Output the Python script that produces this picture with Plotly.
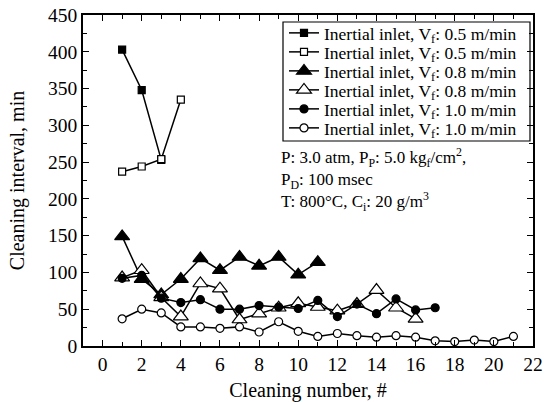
import plotly.graph_objects as go

# Data
x_sq_f = [1, 2, 3]
y_sq_f = [403, 348, 253]

x_sq_o = [1, 2, 3, 4]
y_sq_o = [237, 244, 254, 335]

x_tri_f = [1, 2, 3, 4, 5, 6, 7, 8, 9, 10, 11]
y_tri_f = [149, 91, 70, 91, 119, 103, 121, 109, 121, 97, 114]

x_tri_o = [1, 2, 3, 4, 5, 6, 7, 8, 9, 10, 11, 12, 13, 14, 15, 16]
y_tri_o = [93, 103, 66, 40, 85, 78, 36, 44, 52, 58, 53, 48, 57, 76, 52, 37]

x_cir_f = [1, 2, 3, 4, 5, 6, 7, 8, 9, 10, 11, 12, 13, 14, 15, 16, 17]
y_cir_f = [92, 96, 65, 59, 63, 50, 50, 55, 53, 51, 62, 40, 57, 44, 64, 49, 52]

x_cir_o = [1, 2, 3, 4, 5, 6, 7, 8, 9, 10, 11, 12, 13, 14, 15, 16, 17, 18, 19, 20, 21]
y_cir_o = [37, 50, 45, 26, 26, 24, 26, 19, 33, 20, 13, 17, 14, 12, 14, 12, 7, 6, 8, 6, 13]

names = [
    "Inertial inlet, V<sub>f</sub>: 0.5 m/min",
    "Inertial inlet, V<sub>f</sub>: 0.5 m/min",
    "Inertial inlet, V<sub>f</sub>: 0.8 m/min",
    "Inertial inlet, V<sub>f</sub>: 0.8 m/min",
    "Inertial inlet, V<sub>f</sub>: 1.0 m/min",
    "Inertial inlet, V<sub>f</sub>: 1.0 m/min",
]

FONT = "Liberation Serif"
W, H = 544, 402
ML, MR, MT, MB = 83, 11, 15, 56
PW, PH = W - ML - MR, H - MT - MB


def px_x(p):
    return (p - ML) / PW


def px_y(p):
    return (H - MB - p) / PH


series = [
    (x_sq_f, y_sq_f, "square", "black", 7),
    (x_sq_o, y_sq_o, "square", "white", 7),
    (x_tri_f, y_tri_f, "triangle-up", "black", 13),
    (x_tri_o, y_tri_o, "triangle-up", "white", 13),
    (x_cir_f, y_cir_f, "circle", "black", 8),
    (x_cir_o, y_cir_o, "circle", "white", 8),
]

legend_rows_px = [33, 52, 71, 90, 109, 128]
legend_left_px = 284

fig = go.Figure()
layout_legends = {}
for i, ((xs, ys, sym, fill, size), name) in enumerate(zip(series, names)):
    lg = "legend" if i == 0 else f"legend{i + 1}"
    fig.add_trace(go.Scatter(
        x=xs, y=ys, mode="lines+markers", name=name, legend=lg, showlegend=True,
        line=dict(color="black", width=1.5),
        marker=dict(symbol=sym, color=fill, size=size,
                    line=dict(color="black", width=1.2)),
    ))
    layout_legends[lg] = dict(
        x=px_x(legend_left_px), y=px_y(legend_rows_px[i]),
        xanchor="left", yanchor="middle",
        bgcolor="rgba(0,0,0,0)", borderwidth=0,
        font=dict(family=FONT, size=17.5, color="black"),
        itemwidth=30,
    )

axis_common = dict(
    showline=True, linecolor="black", linewidth=1.5, mirror="allticks",
    ticks="inside", ticklen=6, tickwidth=1.2, tickcolor="black",
    showgrid=False, zeroline=False, automargin=False,
    tickfont=dict(family=FONT, size=19.5, color="black"),
)

fig.update_xaxes(range=[-1, 22], dtick=2, tick0=0,
                 minor=dict(ticks="inside", dtick=1, ticklen=4, tickcolor="black"),
                 title=dict(text="Cleaning number, #", font=dict(family=FONT, size=20, color="black"),
                            standoff=10),
                 **axis_common)
fig.update_yaxes(range=[0, 450], dtick=50,
                 minor=dict(ticks="inside", dtick=25, ticklen=4, tickcolor="black"),
                 title=dict(text="Cleaning interval, min", font=dict(family=FONT, size=20, color="black"),
                            standoff=18),
                 **axis_common)

# legend frame
fig.add_shape(type="rect", xref="paper", yref="paper",
              x0=px_x(283), x1=px_x(530), y0=px_y(141), y1=px_y(22),
              line=dict(color="black", width=1.2), fillcolor="rgba(0,0,0,0)", layer="above")

fig.add_annotation(
    xref="paper", yref="paper", x=px_x(279), y=px_y(143), xanchor="left", yanchor="top",
    align="left", showarrow=False,
    text=("P: 3.0 atm, P<sub>P</sub>: 5.0 kg<sub>f</sub>/cm<sup>2</sup>,<br>"
          "P<sub>D</sub>: 100 msec<br>T: 800°C, C<sub>i</sub>: 20 g/m<sup>3</sup>"),
    font=dict(family=FONT, size=17, color="black"),
)

fig.update_layout(
    width=W, height=H,
    margin=dict(l=ML, r=MR, t=MT, b=MB),
    paper_bgcolor="white", plot_bgcolor="white",
    font=dict(family=FONT, color="black"),
    showlegend=True,
    **layout_legends,
)

fig.write_html("out.html")
